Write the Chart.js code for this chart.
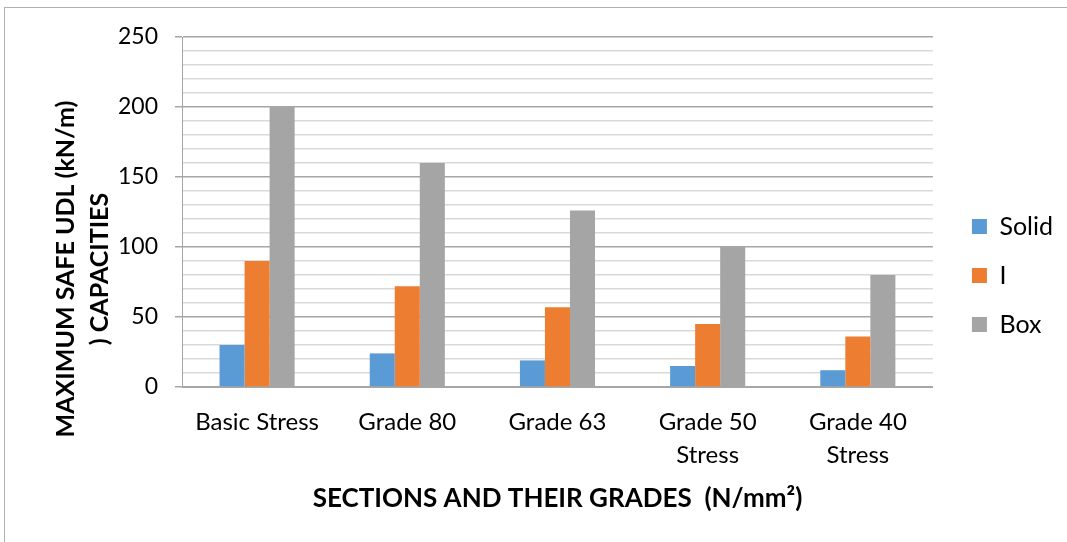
<!DOCTYPE html>
<html>
<head>
<meta charset="utf-8">
<script src="https://cdn.jsdelivr.net/npm/chart.js@4.4.1/dist/chart.umd.min.js"></script>
<style>
  html,body{margin:0;padding:0;background:#fff;}
  #wrap{position:relative;width:1067px;height:542px;}
  #frame{position:absolute;left:4px;top:7px;right:0;bottom:0;border-top:1px solid #b0b0b0;border-left:1px solid #b0b0b0;}
  canvas{position:absolute;left:0;top:0;}
</style>
</head>
<body>
<div id="wrap">
  <div id="frame"></div>
  <canvas id="grafico" width="1067" height="542"></canvas>
</div>
<script>
// DADOS
const categorias = ["Basic Stress", "Grade 80", "Grade 63", ["Grade 50", "Stress"], ["Grade 40", "Stress"]];
const solid = [30, 24, 19, 15, 12];
const perfilI = [90, 72, 57, 45, 36];
const box = [200, 160, 126, 100, 80];

const yMax = 250;
const passoMenor = 10;
const passoMaior = 50;

const tituloY = ["MAXIMUM SAFE UDL (kN/m)", ") CAPACITIES"];
const tituloX = "SECTIONS AND THEIR GRADES  (N/mm²)";

const fonte = "Lato, 'Open Sans', sans-serif";

// titulo do eixo Y (centrado na altura do grafico, nao da area do plot)
const tituloYPlugin = {
  id: "tituloY",
  afterDraw(chart) {
    const ctx = chart.ctx;
    ctx.save();
    ctx.fillStyle = "#000";
    ctx.font = "bold 25px " + fonte;
    ctx.textAlign = "center";
    ctx.textBaseline = "middle";
    const xs = [66, 100];
    tituloY.forEach((linha, i) => {
      ctx.save();
      ctx.translate(xs[i], 269);
      ctx.rotate(-Math.PI / 2);
      ctx.fillText(linha, 0, 0);
      ctx.restore();
    });
    ctx.restore();
  }
};

new Chart(document.getElementById("grafico"), {
  type: "bar",
  data: {
    labels: categorias,
    datasets: [
      { label: "Solid", data: solid, backgroundColor: "#5B9BD5" },
      { label: "I", data: perfilI, backgroundColor: "#ED7D31" },
      { label: "Box", data: box, backgroundColor: "#A5A5A5" }
    ]
  },
  plugins: [tituloYPlugin],
  options: {
    responsive: false,
    animation: false,
    layout: { padding: { left: 118, right: 4, top: 37, bottom: 28 } },
    datasets: {
      bar: { categoryPercentage: 0.5, barPercentage: 1.0, borderWidth: 0 }
    },
    plugins: {
      tooltip: { enabled: false },
      legend: {
        position: "right",
        labels: {
          boxWidth: 15, boxHeight: 15, padding: 24,
          color: "#000",
          font: { family: fonte, size: 25 }
        }
      }
    },
    scales: {
      x: {
        grid: { display: false },
        border: { color: "#a6a6a6" },
        ticks: { color: "#000", font: { family: fonte, size: 24, lineHeight: 1.4 }, maxRotation: 0, padding: 10 },
        title: {
          display: true,
          text: tituloX,
          color: "#000",
          font: { family: fonte, size: 26, weight: "bold" },
          padding: { top: 10, bottom: 0 }
        },
        afterFit: s => { s.height = 127; }
      },
      y: {
        min: 0, max: yMax,
        border: { color: "#a6a6a6" },
        grid: {
          color: c => (c.tick.value % passoMaior === 0 ? "#a6a6a6" : "#d9d9d9"),
          tickColor: c => (c.tick.value % passoMaior === 0 ? "#a6a6a6" : "rgba(0,0,0,0)"),
          tickLength: 7,
          lineWidth: 1.5
        },
        ticks: {
          stepSize: passoMenor,
          autoSkip: false,
          color: "#000",
          padding: 17,
          font: { family: fonte, size: 23 },
          callback: v => (v % passoMaior === 0 ? v : "")
        },
        afterFit: s => { s.width = 64; }
      },
      // eixo vazio so para abrir espaco entre o plot e a legenda
      espaco: {
        position: "right",
        display: true,
        grid: { display: false },
        border: { display: false },
        ticks: { display: false },
        afterFit: s => { s.width = 15; }
      }
    }
  }
});
</script>
</body>
</html>
